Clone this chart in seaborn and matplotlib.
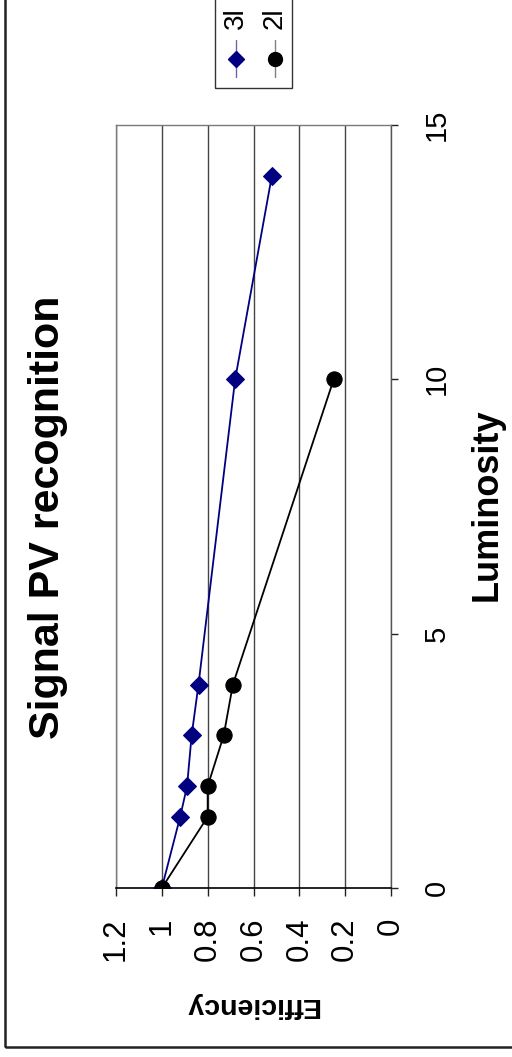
import matplotlib
matplotlib.use("Agg")
import matplotlib.pyplot as plt
import matplotlib.patches as mpatches
from matplotlib.lines import Line2D
import seaborn as sns
import pandas as pd

# Signal PV recognition efficiency versus luminosity
series_names = ["3l", "2l"]
lum_3l = [0, 1.4, 2, 3, 4, 10, 14]
eff_3l = [1.0, 0.92, 0.89, 0.87, 0.84, 0.68, 0.52]
lum_2l = [0, 1.4, 2, 3, 4, 10]
eff_2l = [1.0, 0.80, 0.80, 0.73, 0.69, 0.25]

eff_ticks = [1.2, 1.0, 0.8, 0.6, 0.4, 0.2, 0.0]
eff_tick_labels = ["1.2", "1", "0.8", "0.6", "0.4", "0.2", "0"]
lum_ticks = [0, 5, 10, 15]
lum_tick_labels = ["0", "5", "10", "15"]

colors = {"3l": "#000080", "2l": "#000000"}
markers = {"3l": "D", "2l": "o"}
msizes = {"3l": 9, "2l": 11}

df = pd.concat([
    pd.DataFrame({"Luminosity": lum_3l, "Efficiency": eff_3l, "series": "3l"}),
    pd.DataFrame({"Luminosity": lum_2l, "Efficiency": eff_2l, "series": "2l"}),
])

sns.set_theme(style="white")
plt.rcParams["font.family"] = ["Liberation Sans", "DejaVu Sans"]

W, H = 512, 1057
fig = plt.figure(figsize=(W / 100, H / 100), dpi=100)
fig.patch.set_facecolor("white")

def fx(px):
    return px / W

def fy(py):
    return 1 - py / H

ax = fig.add_axes([fx(116), fy(888), fx(391) - fx(116), fy(125) - fy(888)])
ax.set_facecolor("white")

for name in series_names:
    sub = df[df["series"] == name]
    sns.lineplot(data=sub, x="Efficiency", y="Luminosity", sort=False,
                 estimator=None, color=colors[name], marker=markers[name],
                 markersize=msizes[name], markeredgecolor=colors[name],
                 linewidth=1.3, ax=ax, legend=False, zorder=3)

ax.set_xlim(1.2, 0)
ax.set_ylim(0, 15)
ax.set_xticks(eff_ticks)
ax.set_xticklabels(eff_tick_labels, rotation=90, ha="center", va="top", fontsize=22.5)
ax.yaxis.tick_right()
ax.set_yticks(lum_ticks)
ax.set_yticklabels(lum_tick_labels, rotation=90, ha="left", va="center", fontsize=21)
ax.tick_params(axis="x", direction="out", length=6, width=1, color="#222222",
               pad=15, bottom=True, labelcolor="black")
ax.tick_params(axis="y", direction="out", length=5, width=1, color="#222222",
               pad=18, right=True, left=False, labelcolor="black")
ax.set_xlabel("")
ax.set_ylabel("")

# vertical gridlines at efficiency steps
for t in eff_ticks:
    ax.axvline(t, color="#454545", linewidth=1.0, zorder=1)
for side in ["top", "left"]:
    ax.spines[side].set_color("#7a7a7a")
    ax.spines[side].set_linewidth(1.0)
ax.spines["bottom"].set_color("black")
ax.spines["bottom"].set_linewidth(1.2)
ax.spines["right"].set_color("#555555")
ax.spines["right"].set_linewidth(1.0)

# titles
fig.text(fx(48), fy(517), "Signal PV recognition", rotation=90, ha="center",
         va="center", fontsize=31, fontweight="bold", color="black")
fig.text(fx(487), fy(505), "Luminosity", rotation=90, ha="center",
         va="center", fontsize=26, fontweight="bold", color="black")
fig.text(fx(252), fy(1005), "Efficiency", rotation=180, ha="center",
         va="center", fontsize=20.5, fontweight="bold", color="black")

# chart border
fig.patches.append(mpatches.Rectangle((fx(5), fy(1047)), 1.2, 1.2,
                                      transform=fig.transFigure, fill=False,
                                      edgecolor="#222222", linewidth=1.8))

# legend box
fig.patches.append(mpatches.Rectangle((fx(215), fy(88)), fx(292) - fx(215), 0.2,
                                      transform=fig.transFigure, fill=False,
                                      edgecolor="#333333", linewidth=1.0))
for name, px in zip(series_names, [236, 275]):
    fig.lines.append(Line2D([fx(px), fx(px)], [fy(40), fy(77)],
                            transform=fig.transFigure, color=colors[name],
                            linewidth=1.0, alpha=0.6 if name == "3l" else 0.5))
    fig.lines.append(Line2D([fx(px)], [fy(59)], transform=fig.transFigure,
                            color=colors[name], marker=markers[name],
                            markersize=msizes[name] - 1, linestyle="none"))
    fig.text(fx(px), fy(18), name, rotation=90, ha="center", va="center",
             fontsize=20, color="black")

fig.savefig("out.png", dpi=100, facecolor="white")
